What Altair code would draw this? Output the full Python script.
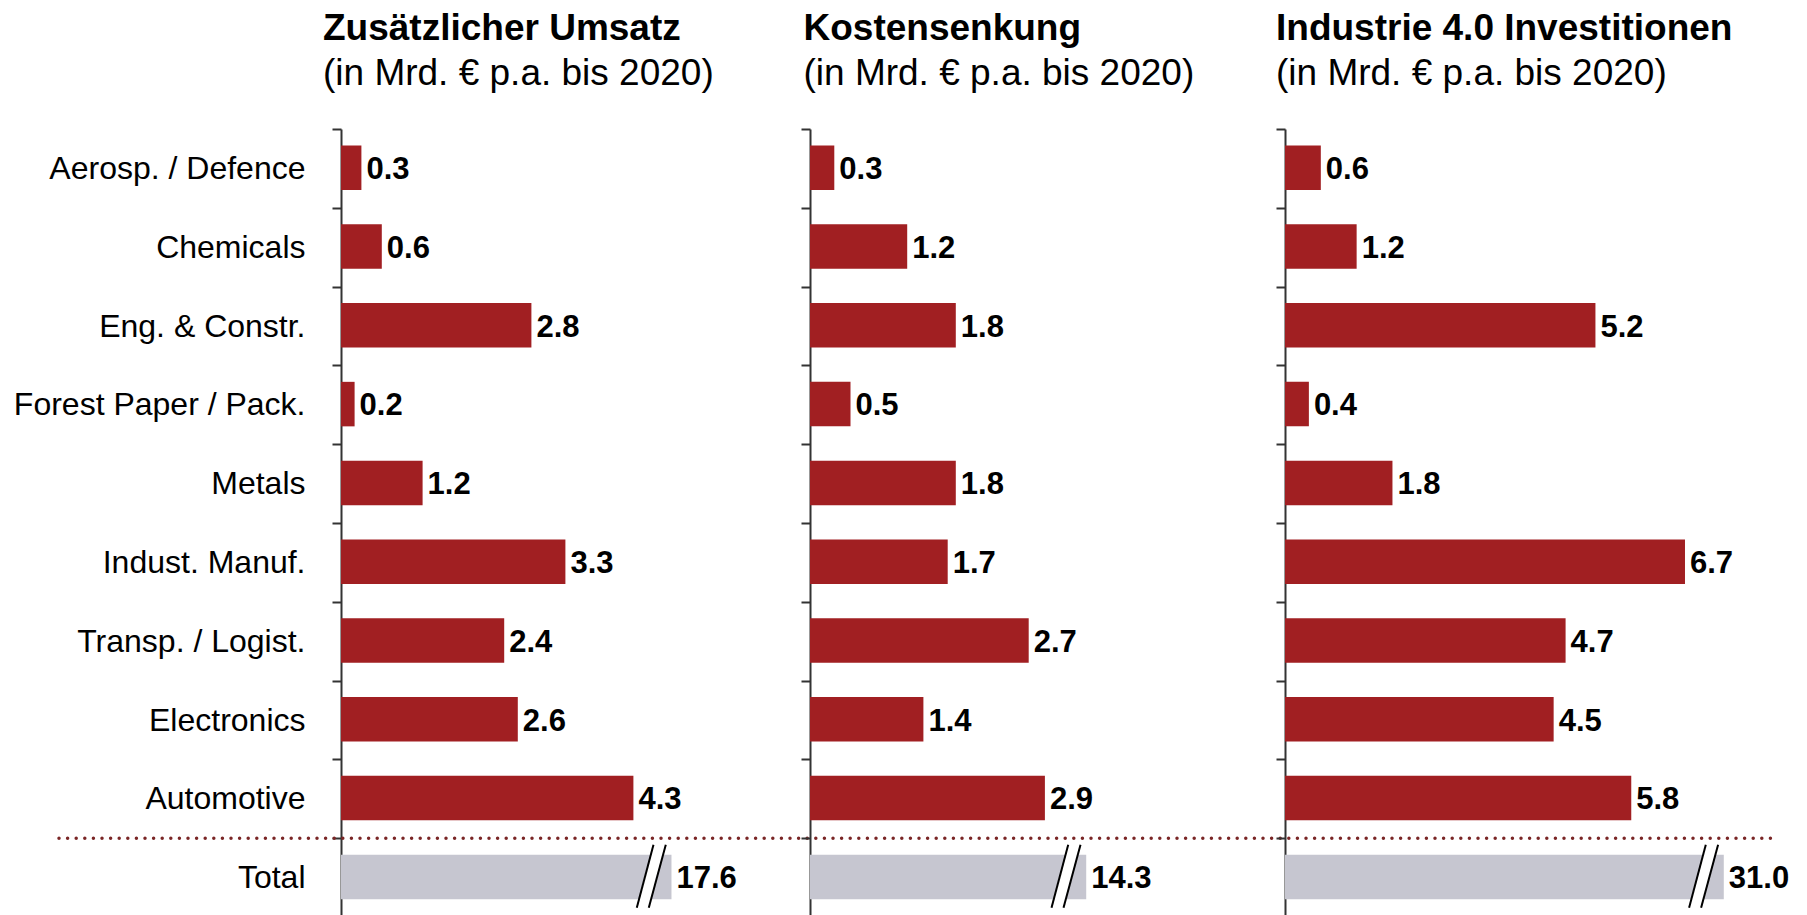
import altair as alt
import pandas as pd

# ---------------- data ----------------
categories = [
    "Aerosp. / Defence", "Chemicals", "Eng. & Constr.", "Forest Paper / Pack.",
    "Metals", "Indust. Manuf.", "Transp. / Logist.", "Electronics", "Automotive", "Total",
]
umsatz = [0.3, 0.6, 2.8, 0.2, 1.2, 3.3, 2.4, 2.6, 4.3, 17.6]
kosten = [0.3, 1.2, 1.8, 0.5, 1.8, 1.7, 2.7, 1.4, 2.9, 14.3]
invest = [0.6, 1.2, 5.2, 0.4, 1.8, 6.7, 4.7, 4.5, 5.8, 31.0]

titles = ["Zusätzlicher Umsatz", "Kostensenkung", "Industrie 4.0 Investitionen"]
subtitle = "(in Mrd. € p.a. bis 2020)"

# axis break: the Total bar is drawn cut at this value (per panel)
break_at = [4.86, 3.41, 7.35]

# ---------------- layout / style ----------------
FONT = "Liberation Sans"
RED = "#a11f22"
GRAY = "#c6c6d0"
DOT = "#7a2626"
H = 788
STEP = H / 10
S = 120
px_per_unit = [68.0, 81.0, 59.7]
widths = [349, 355, 440]
title_dx = [-18, -6.5, -9]
title_offset = [20, 35, 35]


def panel(i, values, show_labels):
    df = pd.DataFrame({"category": categories, "value": values})
    dmax = widths[i] / px_per_unit[i]
    base = alt.Chart(df).transform_calculate(
        shown=f"min(datum.value, {break_at[i]})",
        kind="datum.category == 'Total' ? 'total' : 'sector'",
        label="format(datum.value, '.1f')",
    )
    xs = alt.Scale(domain=[0, dmax], nice=False, zero=True)
    yaxis = alt.Axis(
        title=None, labels=show_labels, tickBand="extent", ticks=True,
        tickSize=9, tickWidth=2, tickColor="#333333",
        domainColor="#333333", domainWidth=2,
        labelFontSize=32, labelFont=FONT, labelColor="black",
        labelPadding=27, labelLimit=0,
    )
    y = alt.Y("category:N", sort=categories,
              scale=alt.Scale(paddingInner=0, paddingOuter=0), axis=yaxis)
    bars = base.mark_bar(height=alt.RelativeBandSize(0.565), yOffset=-0.7).encode(
        x=alt.X("shown:Q", scale=xs, axis=None),
        y=y,
        color=alt.Color("kind:N", scale=alt.Scale(domain=["sector", "total"], range=[RED, GRAY]), legend=None),
    )
    text = base.mark_text(
        align="left", baseline="middle", dx=5, yOffset=1.5,
        fontSize=31, fontWeight="bold", font=FONT, color="black",
    ).encode(
        x=alt.X("shown:Q"),
        y=alt.Y("category:N", sort=categories),
        text="label:N",
    )
    one = alt.Chart(pd.DataFrame({"k": [0]}))
    y_top = 9 * STEP + 6.5
    y_bot = 9 * STEP + 69.5
    gap = one.mark_rule(color="white", strokeWidth=11, xOffset=-11.9, x2Offset=-28.7).encode(
        x=alt.datum(break_at[i]), x2=alt.datum(break_at[i]),
        y=alt.value(y_top), y2=alt.value(y_bot),
    )
    line_a = one.mark_rule(color="black", strokeWidth=2, xOffset=-18, x2Offset=-34.7).encode(
        x=alt.datum(break_at[i]), x2=alt.datum(break_at[i]),
        y=alt.value(y_top), y2=alt.value(y_bot),
    )
    line_b = one.mark_rule(color="black", strokeWidth=2, xOffset=-5.7, x2Offset=-22.7).encode(
        x=alt.datum(break_at[i]), x2=alt.datum(break_at[i]),
        y=alt.value(y_top), y2=alt.value(y_bot),
    )
    layers = [bars, gap, line_a, line_b, text]
    if i == 0:
        dotted = one.mark_rule(
            color=DOT, strokeWidth=3.5, strokeDash=[0, 8.6], strokeCap="round"
        ).encode(x=alt.value(58 - 340), x2=alt.value(1772 - 340), y=alt.value(9 * STEP))
        layers.append(dotted)
    return alt.layer(*layers).properties(
        width=widths[i], height=H,
        title=alt.TitleParams(
            text=titles[i], subtitle=subtitle, anchor="start", frame="group",
            dx=title_dx[i], fontSize=37, fontWeight="bold", font=FONT, color="black",
            subtitleFontSize=37, subtitleFont=FONT, subtitleColor="black",
            subtitleFontWeight="normal", subtitlePadding=8, offset=title_offset[i],
        ),
    )


chart = alt.hconcat(
    panel(0, umsatz, True),
    panel(1, kosten, False),
    panel(2, invest, False),
    spacing=S, bounds="flush",
).properties(
    padding={"left": 5, "top": 2, "right": 5, "bottom": 5}
).configure_view(stroke=None)

chart.save("out.html", embed_options={"renderer": "svg", "actions": False})
